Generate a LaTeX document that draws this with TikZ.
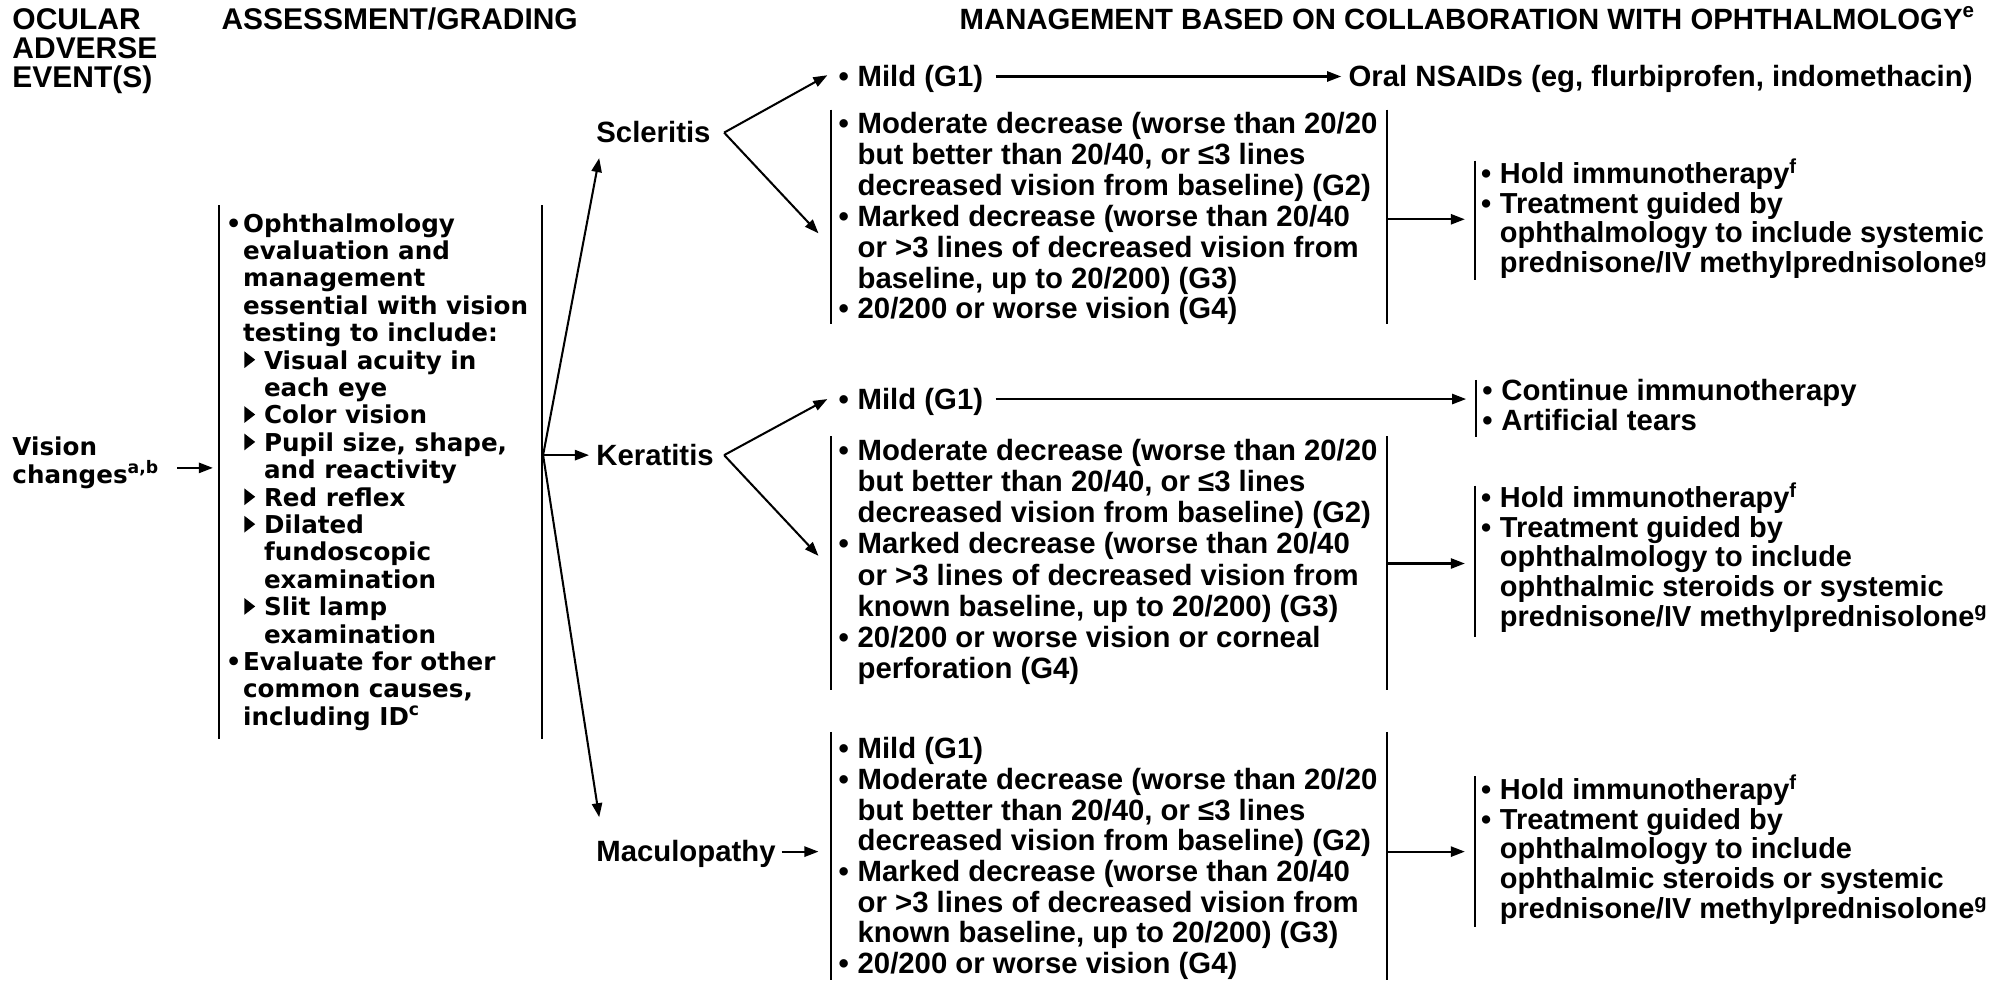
\documentclass[tikz,border=0pt]{standalone}
\usepackage{fontspec}
\setmainfont{Liberation Sans}
\newfontfamily\dv{DejaVu Sans}
\usetikzlibrary{arrows.meta}
\newcommand\ml[2]{\vtop{\baselineskip=#1\relax\lineskiplimit=-\maxdimen\lineskip=0pt\let\\\cr\halign{##\hfil\cr#2\crcr}}}
\newcommand\bu{\makebox[0.65em][l]{•}}
\newcommand\ind{\hspace*{0.65em}}
\newcommand\lbu{\makebox[0.7em][l]{•}}
\newcommand\lind{\hspace*{0.7em}}
\newcommand\tri{\makebox[0.85em][l]{\hspace{0.05em}\tikz[baseline=0pt]\fill (0em,0.04em) -- (0em,0.72em) -- (0.44em,0.38em) -- cycle;}}
\newcommand\tind{\hspace*{0.85em}}
\begin{document}
\begin{tikzpicture}[x=1pt,y=-1pt,
  line width=1.6pt,
  hd/.style={anchor=base west, inner sep=0pt, font=\fontsize{23.5}{23}\selectfont\bfseries},
  hdm/.style={anchor=base west, inner sep=0pt, font=\fontsize{23}{23}\selectfont\bfseries},
  lt/.style={anchor=base west, inner sep=0pt, font=\dv\fontsize{19.3}{21.5}\selectfont\bfseries},
  rt/.style={anchor=base west, inner sep=0pt, font=\fontsize{23}{24.2}\selectfont\bfseries},
  mt/.style={anchor=base west, inner sep=0pt, font=\fontsize{22.7}{23.3}\selectfont\bfseries},
  bar/.style={line width=1.6pt},
  arr/.style={-{Triangle[length=11pt,width=8pt]}, line width=1.6pt}]
\fill[white] (0,0) rectangle (1568,769);
\useasboundingbox (0,0) rectangle (1568,769);

% headers
\node[hd] (h1) at (9,23) {\ml{23pt}{OCULAR\\ADVERSE\\EVENT(S)}};
\node[hd] (h2) at (173,23) {ASSESSMENT/GRADING};
\node[hdm] (h3) at (752,23) {MANAGEMENT BASED ON COLLABORATION WITH OPHTHALMOLOGY\textsuperscript{e}};

% vision changes
\node[lt] (vis) at (9,357) {\ml{22pt}{Vision\\changes\textsuperscript{a,b}}};
\coordinate (vA) at (139,367);
\coordinate (vB) at (167,367);
\draw[arr] (vA) -- (vB);

% assessment column
\coordinate (aL1) at (172,161); \coordinate (aL2) at (172,580);
\coordinate (aR1) at (425,161); \coordinate (aR2) at (425,580);
\draw[bar] (aL1) -- (aL2);
\draw[bar] (aR1) -- (aR2);
\node[lt] (assess) at (177,182) {\ml{21.5pt}{%
\lbu Ophthalmology\\
\lind evaluation and\\
\lind management\\
\lind essential with vision\\
\lind testing to include:\\
\lind\tri Visual acuity in\\
\lind\tind each eye\\
\lind\tri Color vision\\
\lind\tri Pupil size, shape,\\
\lind\tind and reactivity\\
\lind\tri Red reflex\\
\lind\tri Dilated\\
\lind\tind fundoscopic\\
\lind\tind examination\\
\lind\tri Slit lamp\\
\lind\tind examination\\
\lbu Evaluate for other\\
\lind common causes,\\
\lind including ID\textsuperscript{c}}};

% fan
\coordinate (fan) at (426,357);
\coordinate (sclIn) at (470,124);
\coordinate (kerIn) at (462,357);
\coordinate (macIn) at (470,641);
\draw[arr] (fan) -- (sclIn);
\draw[arr] (fan) -- (kerIn);
\draw[arr] (fan) -- (macIn);

\node[rt] (scl) at (467,112) {Scleritis};
\node[rt] (ker) at (467,365) {Keratitis};
\node[rt] (mac) at (467,676) {Maculopathy};

% ---------- Scleritis ----------
\coordinate (sF) at (568,104);
\coordinate (sUp) at (649,59);
\coordinate (sDn) at (642,183);
\draw[arr] (sF) -- (sUp);
\draw[arr] (sF) -- (sDn);
\node[rt] (smild) at (657,68) {\bu Mild (G1)};
\coordinate (sm1) at (781,60);
\coordinate (sm2) at (1052,60);
\draw[arr] (sm1) -- (sm2);
\node[rt] (nsaid) at (1057,68) {Oral NSAIDs (eg, flurbiprofen, indomethacin)};

\coordinate (sb1) at (652,86); \coordinate (sb2) at (652,254);
\coordinate (sb3) at (1088,86); \coordinate (sb4) at (1088,254);
\draw[bar] (sb1) -- (sb2);
\draw[bar] (sb3) -- (sb4);
\node[rt] (sblk) at (657,105) {\ml{24.2pt}{%
\bu Moderate decrease (worse than 20/20\\
\ind but better than 20/40, or ≤3 lines\\
\ind decreased vision from baseline) (G2)\\
\bu Marked decrease (worse than 20/40\\
\ind or >3 lines of decreased vision from\\
\ind baseline, up to 20/200) (G3)\\
\bu 20/200 or worse vision (G4)}};
\coordinate (sa1) at (1088,172);
\coordinate (sa2) at (1149,172);
\draw[arr] (sa1) -- (sa2);
\coordinate (sm3) at (1157,126); \coordinate (sm4) at (1157,220);
\draw[bar] (sm3) -- (sm4);
\node[mt] (smg) at (1161,144) {\ml{23.3pt}{%
\bu Hold immunotherapy\textsuperscript{f}\\
\bu Treatment guided by\\
\ind ophthalmology to include systemic\\
\ind prednisone/IV methylprednisolone\textsuperscript{g}}};

% ---------- Keratitis ----------
\coordinate (kF) at (568,357);
\coordinate (kUp) at (649,313);
\coordinate (kDn) at (642,436);
\draw[arr] (kF) -- (kUp);
\draw[arr] (kF) -- (kDn);
\node[rt] (kmild) at (657,321) {\bu Mild (G1)};
\coordinate (km1) at (781,313);
\coordinate (km2) at (1150,313);
\draw[arr] (km1) -- (km2);
\coordinate (kc1) at (1158,298); \coordinate (kc2) at (1158,343);
\draw[bar] (kc1) -- (kc2);
\node[rt] (kcont) at (1162,314) {\ml{24pt}{%
\bu Continue immunotherapy\\
\bu Artificial tears}};

\coordinate (kb1) at (652,342); \coordinate (kb2) at (652,541);
\coordinate (kb3) at (1088,342); \coordinate (kb4) at (1088,541);
\draw[bar] (kb1) -- (kb2);
\draw[bar] (kb3) -- (kb4);
\node[rt] (kblk) at (657,361) {\ml{24.5pt}{%
\bu Moderate decrease (worse than 20/20\\
\ind but better than 20/40, or ≤3 lines\\
\ind decreased vision from baseline) (G2)\\
\bu Marked decrease (worse than 20/40\\
\ind or >3 lines of decreased vision from\\
\ind known baseline, up to 20/200) (G3)\\
\bu 20/200 or worse vision or corneal\\
\ind perforation (G4)}};
\coordinate (ka1) at (1088,442);
\coordinate (ka2) at (1149,442);
\draw[arr] (ka1) -- (ka2);
\coordinate (km3) at (1157,381); \coordinate (km4) at (1157,500);
\draw[bar] (km3) -- (km4);
\node[mt] (kmg) at (1161,398) {\ml{23.3pt}{%
\bu Hold immunotherapy\textsuperscript{f}\\
\bu Treatment guided by\\
\ind ophthalmology to include\\
\ind ophthalmic steroids or systemic\\
\ind prednisone/IV methylprednisolone\textsuperscript{g}}};

% ---------- Maculopathy ----------
\coordinate (mA) at (613,668);
\coordinate (mB) at (642,668);
\draw[arr] (mA) -- (mB);
\coordinate (mb1) at (652,574); \coordinate (mb2) at (652,769);
\coordinate (mb3) at (1088,574); \coordinate (mb4) at (1088,769);
\draw[bar] (mb1) -- (mb2);
\draw[bar] (mb3) -- (mb4);
\node[rt] (mblk) at (657,595) {\ml{24.1pt}{%
\bu Mild (G1)\\
\bu Moderate decrease (worse than 20/20\\
\ind but better than 20/40, or ≤3 lines\\
\ind decreased vision from baseline) (G2)\\
\bu Marked decrease (worse than 20/40\\
\ind or >3 lines of decreased vision from\\
\ind known baseline, up to 20/200) (G3)\\
\bu 20/200 or worse vision (G4)}};
\coordinate (ma1) at (1088,668);
\coordinate (ma2) at (1149,668);
\draw[arr] (ma1) -- (ma2);
\coordinate (mm3) at (1157,609); \coordinate (mm4) at (1157,727);
\draw[bar] (mm3) -- (mm4);
\node[mt] (mmg) at (1161,627) {\ml{23.3pt}{%
\bu Hold immunotherapy\textsuperscript{f}\\
\bu Treatment guided by\\
\ind ophthalmology to include\\
\ind ophthalmic steroids or systemic\\
\ind prednisone/IV methylprednisolone\textsuperscript{g}}};
\end{tikzpicture}
\end{document}
